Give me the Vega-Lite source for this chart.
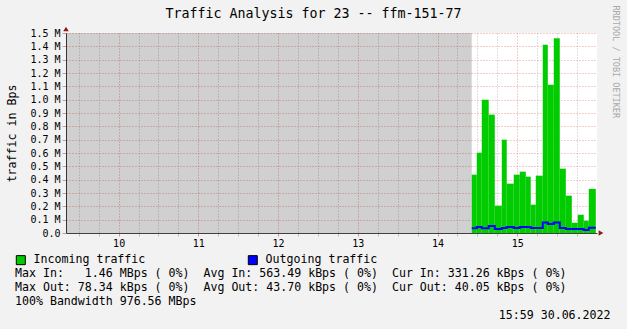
{
  "$schema": "https://vega.github.io/schema/vega-lite/v6.json",
  "width": 531,
  "height": 200,
  "autosize": {"type": "none"},
  "padding": {"left": 66, "top": 33, "right": 30, "bottom": 96},
  "background": "#f2f2f2",
  "config": {"view": {"fill": "white", "stroke": null}, "font": "DejaVu Sans Mono"},
  "datasets": {
    "unknown": [{"start": 9.34, "end": 14.429}],
    "traffic": [
      {"start": 14.429, "end": 14.492, "in": 0.4375},
      {"start": 14.492, "end": 14.555, "in": 0.6025},
      {"start": 14.555, "end": 14.642, "in": 1.0},
      {"start": 14.642, "end": 14.718, "in": 0.8875},
      {"start": 14.718, "end": 14.806, "in": 0.205},
      {"start": 14.806, "end": 14.868, "in": 0.70},
      {"start": 14.868, "end": 14.956, "in": 0.37},
      {"start": 14.956, "end": 15.031, "in": 0.4375},
      {"start": 15.031, "end": 15.107, "in": 0.46},
      {"start": 15.107, "end": 15.169, "in": 0.4225},
      {"start": 15.169, "end": 15.232, "in": 0.2125},
      {"start": 15.232, "end": 15.320, "in": 0.43},
      {"start": 15.320, "end": 15.383, "in": 1.4125},
      {"start": 15.383, "end": 15.458, "in": 1.1125},
      {"start": 15.458, "end": 15.533, "in": 1.46},
      {"start": 15.533, "end": 15.609, "in": 0.4825},
      {"start": 15.609, "end": 15.684, "in": 0.28},
      {"start": 15.684, "end": 15.759, "in": 0.0775},
      {"start": 15.759, "end": 15.834, "in": 0.1375},
      {"start": 15.834, "end": 15.897, "in": 0.0925},
      {"start": 15.897, "end": 15.985, "in": 0.331}
    ],
    "outgoing": [
      {"t": 14.429, "out": 0.035},
      {"t": 14.492, "out": 0.045},
      {"t": 14.555, "out": 0.035},
      {"t": 14.642, "out": 0.0525},
      {"t": 14.718, "out": 0.03},
      {"t": 14.806, "out": 0.0375},
      {"t": 14.868, "out": 0.045},
      {"t": 14.956, "out": 0.0375},
      {"t": 15.031, "out": 0.045},
      {"t": 15.107, "out": 0.045},
      {"t": 15.169, "out": 0.0375},
      {"t": 15.232, "out": 0.0375},
      {"t": 15.320, "out": 0.078},
      {"t": 15.383, "out": 0.0675},
      {"t": 15.458, "out": 0.078},
      {"t": 15.533, "out": 0.0375},
      {"t": 15.609, "out": 0.03},
      {"t": 15.684, "out": 0.03},
      {"t": 15.759, "out": 0.03},
      {"t": 15.834, "out": 0.0225},
      {"t": 15.897, "out": 0.040},
      {"t": 15.985, "out": 0.040}
    ]
  },
  "resolve": {"axis": {"x": "independent", "y": "independent"}},
  "layer": [
    {
      "data": {"name": "unknown"},
      "mark": {"type": "rect", "fill": "black", "opacity": 0.185},
      "encoding": {
        "x": {
          "field": "start", "type": "quantitative",
          "scale": {"domain": [9.34, 16.0], "nice": false, "zero": false},
          "axis": {
            "orient": "bottom",
            "values": [9.5, 9.75, 10, 10.25, 10.5, 10.75, 11, 11.25, 11.5, 11.75, 12, 12.25, 12.5, 12.75, 13, 13.25, 13.5, 13.75, 14, 14.25, 14.5, 14.75, 15, 15.25, 15.5, 15.75],
            "labelExpr": "datum.value % 1 == 0 ? format(datum.value, 'd') : ''",
            "labelOverlap": false, "labelFlush": false,
            "labelFont": "DejaVu Sans Mono", "labelFontSize": 10, "labelColor": "black", "labelPadding": 2,
            "grid": true, "gridDash": [1, 2],
            "gridColor": {"condition": {"test": "datum.value % 1 == 0", "value": "#e89a9a"}, "value": "#c0c0c0"},
            "tickColor": {"condition": {"test": "datum.value % 1 == 0", "value": "#e29090"}, "value": "#c0c0c0"},
            "tickSize": 3, "domainColor": "#404040",
            "title": "15:59 30.06.2022",
            "titleFont": "DejaVu Sans Mono", "titleFontSize": 11.6, "titleFontWeight": "normal", "titleColor": "black",
            "titleAlign": "right", "titleBaseline": "middle", "titleX": 544, "titleY": 82
          }
        },
        "x2": {"field": "end"},
        "y": {"datum": 1.5, "type": "quantitative", "axis": null},
        "y2": {"datum": 0}
      }
    },
    {
      "data": {"name": "traffic"},
      "mark": {"type": "rect"},
      "encoding": {
        "x": {"field": "start", "type": "quantitative", "axis": null},
        "x2": {"field": "end"},
        "y": {
          "field": "in", "type": "quantitative",
          "scale": {"domain": [0, 1.5], "nice": false, "zero": true},
          "axis": {
            "orient": "left",
            "values": [0, 0.1, 0.2, 0.3, 0.4, 0.5, 0.6, 0.7, 0.8, 0.9, 1.0, 1.1, 1.2, 1.3, 1.4, 1.5],
            "labelExpr": "datum.value == 0 ? '0.0\u00a0\u00a0' : format(datum.value, '.1f') + ' M'",
            "labelFont": "DejaVu Sans Mono", "labelFontSize": 10, "labelColor": "black", "labelPadding": 2,
            "labelOverlap": false, "labelFlush": false,
            "grid": true, "gridDash": [1, 2], "gridColor": "#e89a9a",
            "tickColor": "#e29090", "tickSize": 4, "domainColor": "#404040",
            "title": "traffic in Bps", "titleFont": "DejaVu Sans Mono", "titleFontSize": 11.6,
            "titleFontWeight": "normal", "titleColor": "black", "titlePadding": 12
          }
        },
        "y2": {"datum": 0},
        "fill": {
          "datum": "Incoming traffic",
          "scale": {"domain": ["Incoming traffic", "Outgoing traffic"], "range": ["#00cc00", "#0000ff"]},
          "legend": {
            "orient": "none", "legendX": -51, "legendY": 221,
            "direction": "horizontal",
            "symbolType": "square", "symbolSize": 81, "symbolStrokeColor": "black", "symbolStrokeWidth": 1,
            "labelFont": "DejaVu Sans Mono", "labelFontSize": 11.6, "labelColor": "black", "labelOffset": 7, "labelLimit": 400,
            "columnPadding": 100,
            "title": [
              "Max In:\u00a0\u00a0\u00a01.46 MBps (\u00a00%)\u00a0\u00a0Avg In: 563.49 kBps (\u00a00%)\u00a0\u00a0Cur In: 331.26 kBps (\u00a00%)",
              "Max Out: 78.34 kBps (\u00a00%)\u00a0\u00a0Avg Out: 43.70 kBps (\u00a00%)\u00a0\u00a0Cur Out: 40.05 kBps (\u00a00%)",
              "100% Bandwidth 976.56 MBps"
            ],
            "titleOrient": "bottom", "titleAnchor": "start",
            "titleFont": "DejaVu Sans Mono", "titleFontSize": 11.6, "titleFontWeight": "normal", "titleColor": "black",
            "titleLineHeight": 14, "titleLimit": 800, "titlePadding": 1
          }
        }
      }
    },
    {
      "data": {"name": "outgoing"},
      "mark": {"type": "line", "interpolate": "step-after", "color": "#0000ff", "strokeWidth": 2},
      "encoding": {
        "x": {
          "field": "t", "type": "quantitative",
          "axis": {
            "orient": "top", "labels": false, "ticks": false, "domain": false, "grid": false,
            "title": "Traffic Analysis for 23 -- ffm-151-77",
            "titleFont": "DejaVu Sans Mono", "titleFontSize": 13.3, "titleFontWeight": "normal", "titleColor": "black",
            "titleX": 247, "titleY": -20, "titleAlign": "center", "titleBaseline": "middle"
          }
        },
        "y": {
          "field": "out", "type": "quantitative",
          "axis": {
            "orient": "right", "labels": false, "ticks": false, "domain": false, "grid": false,
            "title": "RRDTOOL / TOBI OETIKER",
            "titleFont": "DejaVu Sans Mono", "titleFontSize": 8.5, "titleFontWeight": "normal", "titleColor": "#a8a8a8",
            "titleAngle": 90, "titleAlign": "left", "titleBaseline": "middle", "titleX": 18, "titleY": -28
          }
        }
      }
    },
    {
      "data": {"values": [{"x": 9.34, "y": 1.5}]},
      "mark": {"type": "point", "shape": "triangle-up", "filled": true, "size": 30, "color": "#8b1a1a", "opacity": 1, "yOffset": -4},
      "encoding": {
        "x": {"field": "x", "type": "quantitative", "axis": null},
        "y": {"field": "y", "type": "quantitative", "axis": null}
      }
    },
    {
      "data": {"values": [{"x": 16.0, "y": 0}]},
      "mark": {"type": "point", "shape": "triangle-right", "filled": true, "size": 30, "color": "#8b1a1a", "opacity": 1, "xOffset": 4},
      "encoding": {
        "x": {"field": "x", "type": "quantitative", "axis": null},
        "y": {"field": "y", "type": "quantitative", "axis": null}
      }
    }
  ]
}
